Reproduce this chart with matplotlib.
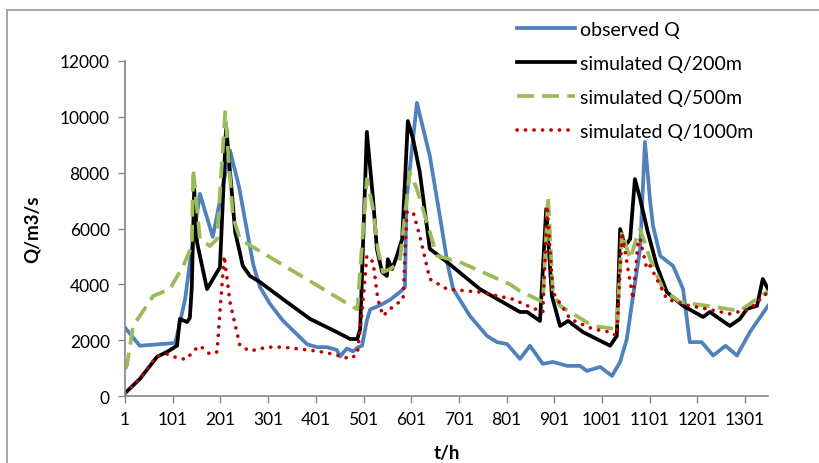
import matplotlib.pyplot as plt
from matplotlib.lines import Line2D

# hourly discharge, read at break points of each hydrograph
t_obs = [1, 32, 106, 112, 127, 141, 158, 185, 221, 240, 257, 270, 284, 305, 332, 362,
         383, 404, 424, 445, 452, 466, 479, 490, 498, 508, 515, 536, 557, 577, 588,
         591, 613, 640, 661, 678, 689, 724, 760, 781, 802, 829, 850, 877, 898, 928,
         955, 969, 997, 1022, 1039, 1053, 1066, 1081, 1091, 1102, 1108, 1123, 1150,
         1171, 1185, 1210, 1234, 1260, 1284, 1311, 1349]
q_obs = [2450, 1800, 1900, 2300, 3470, 5270, 7240, 5700, 8800, 7500, 5900, 4700, 3900,
         3300, 2700, 2200, 1850, 1750, 1750, 1650, 1420, 1700, 1600, 1750, 1800, 2700,
         3100, 3250, 3450, 3720, 3900, 7000, 10500, 8600, 6450, 4660, 3830, 2870, 2150,
         1930, 1860, 1330, 1800, 1150, 1220, 1080, 1080, 900, 1040, 720, 1220, 2040,
         3580, 5270, 9100, 6950, 6090, 5020, 4660, 3830, 1930, 1930, 1450, 1800, 1450,
         2290, 3230]

t_200 = [1, 32, 68, 89, 110, 116, 131, 137, 141, 146, 152, 173, 194, 200, 213, 232,
         248, 263, 284, 332, 389, 445, 473, 488, 494, 508, 521, 529, 540, 550, 552,
         561, 571, 582, 594, 605, 619, 640, 676, 745, 829, 844, 871, 884, 896, 913,
         930, 961, 1003, 1018, 1032, 1039, 1049, 1060, 1070, 1081, 1097, 1116, 1137,
         1171, 1213, 1227, 1269, 1290, 1305, 1326, 1338, 1349]
q_200 = [100, 610, 1400, 1580, 1800, 2760, 2650, 2800, 3900, 7400, 5500, 3830, 4440,
         4600, 9670, 5870, 4660, 4300, 4080, 3470, 2760, 2290, 2040, 2040, 2400, 9460,
         7060, 5270, 4440, 4300, 4900, 4550, 5020, 5620, 9850, 9200, 8020, 5270, 4800,
         3830, 3010, 3010, 2690, 6700, 3580, 2510, 2690, 2290, 1930, 1800, 2150, 5980,
         5370, 5620, 7770, 7060, 5870, 4660, 3720, 3230, 2830, 3010, 2510, 2760, 3120,
         3230, 4190, 3830]

t_500 = [1, 5, 18, 60, 95, 123, 141, 144, 158, 179, 194, 211, 227, 242, 263, 488, 508,
         521, 531, 542, 557, 577, 598, 613, 655, 703, 808, 829, 877, 888, 898, 913, 982,
         1032, 1043, 1060, 1077, 1081, 1095, 1102, 1129, 1164, 1221, 1290, 1349]
q_500 = [970, 1080, 2510, 3580, 3830, 4660, 5370, 8130, 5620, 5370, 5620, 10170, 6450,
         5620, 5400, 3100, 7770, 6700, 5270, 4440, 4550, 4800, 8020, 7410, 5020, 4800,
         4000, 3760, 3370, 7160, 3720, 3230, 2510, 2400, 5870, 4900, 5870, 5980, 5270,
         4900, 3830, 3370, 3230, 3050, 3760]

t_1000 = [1, 32, 68, 89, 116, 131, 144, 158, 179, 194, 200, 209, 221, 242, 263, 299,
          332, 404, 437, 473, 488, 498, 508, 521, 531, 542, 557, 584, 592, 605, 619,
          640, 676, 745, 814, 850, 877, 886, 898, 934, 982, 1018, 1032, 1043, 1053,
          1066, 1077, 1081, 1095, 1102, 1137, 1185, 1221, 1269, 1311, 1349]
q_1000 = [100, 610, 1430, 1500, 1330, 1330, 1610, 1800, 1500, 1580, 3010, 5020, 3370,
          1800, 1610, 1750, 1750, 1610, 1500, 1330, 1500, 3010, 5020, 4800, 3470, 2870,
          3120, 3470, 6590, 6590, 5730, 4190, 3830, 3720, 3470, 3190, 3010, 6810, 3720,
          2760, 2400, 2290, 2150, 5870, 4800, 3470, 5620, 5620, 4550, 4660, 3470, 3230,
          3120, 2940, 3120, 3720]

x_ticks = list(range(1, 1302, 100))
y_ticks = list(range(0, 12001, 2000))

plt.rcParams['font.family'] = ['Lato', 'DejaVu Sans']

fig = plt.figure(figsize=(8.2, 4.64), dpi=100)
ax = fig.add_axes([125 / 820, 1 - 397 / 464, 643 / 820, 335 / 464])

ax.plot(t_obs, q_obs, color='#4F81BD', lw=2.7, solid_joinstyle='round')
ax.plot(t_200, q_200, color='black', lw=2.7, solid_joinstyle='round')
ax.plot(t_500, q_500, color='#9BBB59', lw=2.7, linestyle=(0, (4.5, 2.2)))
ax.plot(t_1000, q_1000, color='#C00000', lw=2.6, linestyle=(0, (0.05, 2.3)),
        dash_capstyle='round')

ax.set_xlim(1, 1349)
ax.set_ylim(0, 12000)
ax.set_xticks(x_ticks)
ax.set_yticks(y_ticks)
ax.tick_params(axis='both', direction='out', length=5, width=1, color='#868686',
               labelsize=12.5)
ax.tick_params(axis='x', pad=6)
ax.tick_params(axis='y', pad=6)
for side in ['top', 'right']:
    ax.spines[side].set_visible(False)
for side in ['left', 'bottom']:
    ax.spines[side].set_color('#868686')
    ax.spines[side].set_linewidth(1.2)

ax.set_xlabel('t/h', fontsize=13.5, fontweight='bold', labelpad=12)
ax.set_ylabel('Q/m3/s', fontsize=13.5, fontweight='bold', labelpad=14)

handles = [
    Line2D([], [], color='#4F81BD', lw=2.7),
    Line2D([], [], color='black', lw=2.7),
    Line2D([], [], color='#9BBB59', lw=2.7, linestyle=(0, (4.5, 2.2))),
    Line2D([], [], color='#C00000', lw=2.6, linestyle=(0, (0.05, 2.3)),
           dash_capstyle='round'),
]
labels = ['observed Q', 'simulated Q/200m', 'simulated Q/500m', 'simulated Q/1000m']
fig.legend(handles, labels, loc='upper left', bbox_to_anchor=(517 / 820, 1 - 22 / 464),
           frameon=False, fontsize=14, handlelength=3.0, handletextpad=0.26,
           labelspacing=0.87, borderpad=0, borderaxespad=0)

# chart area border
fig.add_artist(Line2D([7 / 820, 1], [1 - 11 / 464] * 2, color='#A0A0A0', lw=1.3))
fig.add_artist(Line2D([7 / 820] * 2, [0, 1 - 11 / 464], color='#A0A0A0', lw=1.3))

plt.savefig('out.png', dpi=100)
